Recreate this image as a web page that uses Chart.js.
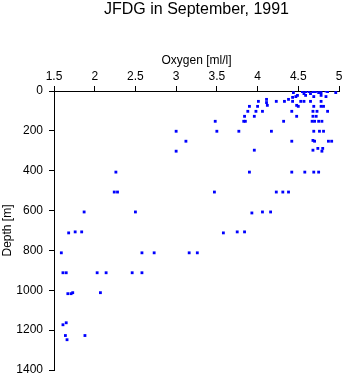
<!DOCTYPE html>
<html>
<head>
<meta charset="utf-8">
<script src="https://cdn.jsdelivr.net/npm/chart.js@4/dist/chart.umd.min.js"></script>
<style>
html,body{margin:0;padding:0;background:#fff;}
#wrap{width:345px;height:384px;position:relative;}
</style>
</head>
<body>
<div id="wrap"><canvas id="c" width="345" height="384"></canvas></div>
<script>
const titleText = "JFDG in September, 1991";
const xTitle = "Oxygen [ml/l]";
const yTitle = "Depth [m]";
const xTickValues = [1.5, 2, 2.5, 3, 3.5, 4, 4.5, 5];
const yTickValues = [0, 200, 400, 600, 800, 1000, 1200, 1400];

const oxygen = [
4.55,4.59,4.63,4.68,4.71,4.78,4.84,4.86,4.96,4.44,4.57,4.65,4.75,
4.47,4.43,4.49,4.59,4.69,4.78,4.84,
4.38,4.11,4.01,4.11,4.23,4.33,4.43,4.53,4.57,4.65,4.78,
3.90,4.00,4.12,4.48,4.50,4.69,4.78,4.81,
3.88,3.98,4.06,4.42,4.68,4.73,4.86,
3.84,3.96,4.48,4.68,4.72,
3.83,3.85,4.32,4.67,4.70,4.75,4.79,
3.77,4.17,4.69,4.76,4.81,
4.42,4.68,4.70,4.87,4.91,
3.96,4.68,4.74,4.79,4.80,
3.90,4.42,4.58,4.69,4.75,
3.47,4.23,4.31,4.38,
3.93,4.06,4.16,
3.58,3.75,3.84,
3.16,3.26,2.58,2.73,
2.50,2.46,2.58,2.24,2.28,2.03,2.14,2.07,
1.87,1.68,1.76,1.84,1.59,1.61,1.65,1.67,1.71,1.73,
1.61,1.65,1.64,1.66,1.88,
3.00,3.00,3.12,3.48,3.50,2.26
];
const depth = [
3,3,3,3,3,8,0,3,8,8,13,13,8,
28,32,22,22,28,22,28,
42,42,52,58,52,52,52,52,52,52,52,
77,77,72,72,77,77,77,77,
102,102,102,102,102,102,102,
127,127,127,127,127,
152,152,152,152,152,152,152,
202,202,202,202,202,
252,248,252,252,252,
297,297,288,302,288,
407,407,407,407,407,
507,507,507,507,
612,607,607,
712,707,707,
812,812,812,812,
607,912,912,507,507,912,912,1012,
607,712,707,707,812,912,912,1017,1017,1012,
1173,1163,1227,1248,1227,
202,302,252,152,202,407
];

const points = oxygen.map((o, i) => ({x: o, y: depth[i]}));
const font = {family: "'Liberation Sans', Arial, sans-serif", size: 12};

new Chart(document.getElementById('c'), {
  type: 'scatter',
  data: {
    datasets: [{
      data: points,
      pointStyle: 'rect',
      pointRadius: 2,
      pointBorderWidth: 0,
      backgroundColor: '#0000ff',
      borderColor: '#0000ff'
    }]
  },
  options: {
    responsive: false,
    animation: false,
    events: [],
    layout: {padding: {top: 0, left: 0, right: 6, bottom: 14}},
    plugins: {
      legend: {display: false},
      tooltip: {enabled: false},
      title: {
        display: true,
        fullSize: false,
        text: titleText,
        color: '#000',
        font: {family: "'Liberation Sans', Arial, sans-serif", size: 16, weight: 'normal'},
        padding: {top: 0, bottom: 31}
      }
    },
    scales: {
      x: {
        type: 'linear',
        position: 'top',
        min: 1.5, max: 5,
        afterBuildTicks: s => { s.ticks = xTickValues.map(v => ({value: v})); },
        ticks: {color: '#000', font: font, padding: 2, maxRotation: 0,
          callback: v => String(v)},
        grid: {drawOnChartArea: false, drawTicks: true, tickLength: 5, color: '#000', lineWidth: 1},
        border: {display: true, color: '#000', width: 1},
        title: {display: true, text: xTitle, color: '#000', font: font, padding: {top: 3, bottom: 0}}
      },
      y: {
        type: 'linear',
        reverse: true,
        min: 0, max: 1400,
        afterBuildTicks: s => { s.ticks = yTickValues.map(v => ({value: v})); },
        afterFit: s => { s.width = 54; },
        ticks: {color: '#000', font: font, padding: 6, callback: v => String(v)},
        grid: {drawOnChartArea: false, drawTicks: true, tickLength: 5, color: '#000', lineWidth: 1},
        border: {display: true, color: '#000', width: 1},
        title: {display: true, text: yTitle, color: '#000', font: font, padding: {top: 0, bottom: 0}}
      }
    }
  }
});
</script>
</body>
</html>
